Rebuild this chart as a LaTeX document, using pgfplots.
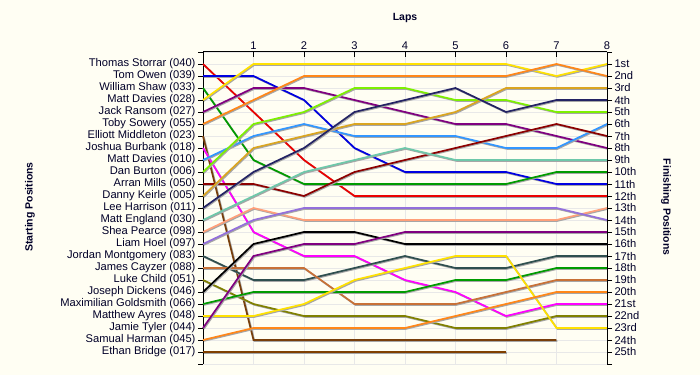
\documentclass[border=0pt]{standalone}
\usepackage{pgfplots}
\pgfplotsset{compat=1.18}
\usepackage{fontspec}
\setmainfont{Liberation Sans}
\definecolor{bg}{RGB}{255,254,243}
\definecolor{txt}{RGB}{0,0,40}
\definecolor{cRed}{RGB}{235,0,0}
\definecolor{cBlue}{RGB}{0,0,225}
\definecolor{cGreen}{RGB}{0,155,0}
\definecolor{cYellow}{RGB}{255,225,0}
\definecolor{cPurple}{RGB}{128,0,128}
\definecolor{cOrange}{RGB}{255,135,25}
\definecolor{cBrown}{RGB}{120,62,10}
\definecolor{cMagenta}{RGB}{255,0,255}
\definecolor{cLBlue}{RGB}{50,150,255}
\definecolor{cLime}{RGB}{125,240,0}
\definecolor{cDRed}{RGB}{140,0,0}
\definecolor{cTan}{RGB}{218,165,32}
\definecolor{cNavy}{RGB}{35,35,100}
\definecolor{cMint}{RGB}{110,200,170}
\definecolor{cSalmon}{RGB}{255,160,122}
\definecolor{cLav}{RGB}{147,112,219}
\definecolor{cSlate}{RGB}{47,79,79}
\definecolor{cSienna}{RGB}{200,113,55}
\definecolor{cOlive}{RGB}{128,128,0}
\definecolor{cBlack}{RGB}{0,0,0}
\definecolor{cBrown2}{RGB}{128,64,0}
\begin{document}
\begin{tikzpicture}
\fill[bg] (0bp,0bp) rectangle (700bp,375bp);
\begin{axis}[
  at={(203bp,11bp)}, anchor=south west, scale only axis,
  width=404bp, height=312bp,
  xmin=0, xmax=8, ymin=0, ymax=26, y dir=reverse,
  axis x line*=top, axis y line*=left,
  axis line style={line width=1bp, black},
  xtick={1,...,8}, ytick={0,...,26},
  yticklabels={,Thomas Storrar (040),Tom Owen (039),William Shaw (033),Matt Davies (028),Jack Ransom (027),Toby Sowery (055),Elliott Middleton (023),Joshua Burbank (018),Matt Davies (010),Dan Burton (006),Arran Mills (050),Danny Keirle (005),Lee Harrison (011),Matt England (030),Shea Pearce (098),Liam Hoel (097),Jordan Montgomery (083),James Cayzer (088),Luke Child (051),Joseph Dickens (046),Maximilian Goldsmith (066),Matthew Ayres (048),Jamie Tyler (044),Samual Harman (045),Ethan Bridge (017),},
  /pgf/number format/assume math mode=true,
  ticklabel style={font=\fontsize{11.2}{12}\selectfont, text=txt},
  yticklabel style={xshift=1bp},
  xticklabel style={yshift=-1bp},
  ytick align=outside, xtick align=inside,
  major tick length=5bp,
  tick style={black, line width=0.8bp},
  grid=major, major grid style={draw=black!9, line width=0.8bp},
  clip=false,
  every axis plot/.append style={line width=1.7bp, mark=none,
     preaction={draw=black!35, transform canvas={xshift=0.9bp, yshift=-0.9bp}}},
]
% Thomas Storrar
\addplot[cRed] coordinates {(0,1)(1,5)(2,9)(3,12)(4,12)(5,12)(6,12)(7,12)(8,12)};
% Tom Owen
\addplot[cBlue] coordinates {(0,2)(1,2)(2,4)(3,8)(4,10)(5,10)(6,10)(7,11)(8,11)};
% William Shaw
\addplot[cGreen] coordinates {(0,3)(1,9)(2,11)(3,11)(4,11)(5,11)(6,11)(7,10)(8,10)};
% Matt Davies 028
\addplot[cYellow] coordinates {(0,4)(1,1)(2,1)(3,1)(4,1)(5,1)(6,1)(7,2)(8,1)};
% Jack Ransom
\addplot[cPurple] coordinates {(0,5)(1,3)(2,3)(3,4)(4,5)(5,6)(6,6)(7,7)(8,8)};
% Toby Sowery
\addplot[cOrange] coordinates {(0,6)(1,4)(2,2)(3,2)(4,2)(5,2)(6,2)(7,1)(8,2)};
% Elliott Middleton
\addplot[cBrown] coordinates {(0,7)(1,24)(2,24)(3,24)(4,24)(5,24)(6,24)(7,24)};
% Joshua Burbank
\addplot[cMagenta] coordinates {(0,8)(1,15)(2,17)(3,17)(4,19)(5,20)(6,22)(7,21)(8,21)};
% Matt Davies 010
\addplot[cLBlue] coordinates {(0,9)(1,7)(2,6)(3,7)(4,7)(5,7)(6,8)(7,8)(8,6)};
% Dan Burton
\addplot[cLime] coordinates {(0,10)(1,6)(2,5)(3,3)(4,3)(5,4)(6,4)(7,5)(8,5)};
% Arran Mills
\addplot[cDRed] coordinates {(0,11)(1,11)(2,12)(3,10)(4,9)(5,8)(6,7)(7,6)(8,7)};
% Danny Keirle
\addplot[cTan] coordinates {(0,12)(1,8)(2,7)(3,6)(4,6)(5,5)(6,3)(7,3)(8,3)};
% Lee Harrison
\addplot[cNavy] coordinates {(0,13)(1,10)(2,8)(3,5)(4,4)(5,3)(6,5)(7,4)(8,4)};
% Matt England
\addplot[cMint] coordinates {(0,14)(1,12)(2,10)(3,9)(4,8)(5,9)(6,9)(7,9)(8,9)};
% Shea Pearce
\addplot[cSalmon] coordinates {(0,15)(1,13)(2,14)(3,14)(4,14)(5,14)(6,14)(7,14)(8,13)};
% Liam Hoel
\addplot[cLav] coordinates {(0,16)(1,14)(2,13)(3,13)(4,13)(5,13)(6,13)(7,13)(8,14)};
% Jordan Montgomery
\addplot[cSlate] coordinates {(0,17)(1,19)(2,19)(3,18)(4,17)(5,18)(6,18)(7,17)(8,17)};
% James Cayzer
\addplot[cSienna] coordinates {(0,18)(1,18)(2,18)(3,21)(4,21)(5,21)(6,20)(7,19)(8,19)};
% Luke Child
\addplot[cOlive] coordinates {(0,19)(1,21)(2,22)(3,22)(4,22)(5,23)(6,23)(7,22)(8,22)};
% Joseph Dickens
\addplot[cBlack] coordinates {(0,20)(1,16)(2,15)(3,15)(4,16)(5,16)(6,16)(7,16)(8,16)};
% Maximilian Goldsmith
\addplot[cGreen] coordinates {(0,21)(1,20)(2,20)(3,20)(4,20)(5,19)(6,19)(7,18)(8,18)};
% Matthew Ayres
\addplot[cYellow] coordinates {(0,22)(1,22)(2,21)(3,19)(4,18)(5,17)(6,17)(7,23)(8,23)};
% Jamie Tyler
\addplot[cPurple] coordinates {(0,23)(1,17)(2,16)(3,16)(4,15)(5,15)(6,15)(7,15)(8,15)};
% Samual Harman
\addplot[cOrange] coordinates {(0,24)(1,23)(2,23)(3,23)(4,23)(5,22)(6,21)(7,20)(8,20)};
% Ethan Bridge
\addplot[cBrown2] coordinates {(0,25)(1,25)(2,25)(3,25)(4,25)(5,25)(6,25)};
\end{axis}
\begin{axis}[
  at={(203bp,11bp)}, anchor=south west, scale only axis,
  width=404bp, height=312bp,
  xmin=0, xmax=8, ymin=0, ymax=26, y dir=reverse,
  hide x axis, axis y line*=right,
  axis line style={line width=1bp, black},
  ytick={0,...,26},
  yticklabels={,1st,2nd,3rd,4th,5th,6th,7th,8th,9th,10th,11th,12th,13th,14th,15th,16th,17th,18th,19th,20th,21st,22nd,23rd,24th,25th,},
  ticklabel style={font=\fontsize{11.2}{12}\selectfont, text=txt},
  yticklabel style={xshift=-1bp},
  ytick align=outside, major tick length=5bp,
  tick style={black, line width=0.8bp},
]
\end{axis}
\node[font=\bfseries\fontsize{10.5}{12}\selectfont, text=txt] at (405bp,357bp) {Laps};
\node[font=\bfseries\fontsize{10.5}{12}\selectfont, text=txt, rotate=90] at (30bp,168bp) {Starting Positions};
\node[font=\bfseries\fontsize{10.5}{12}\selectfont, text=txt, rotate=-90] at (666bp,168bp) {Finishing Positions};
\end{tikzpicture}
\end{document}
